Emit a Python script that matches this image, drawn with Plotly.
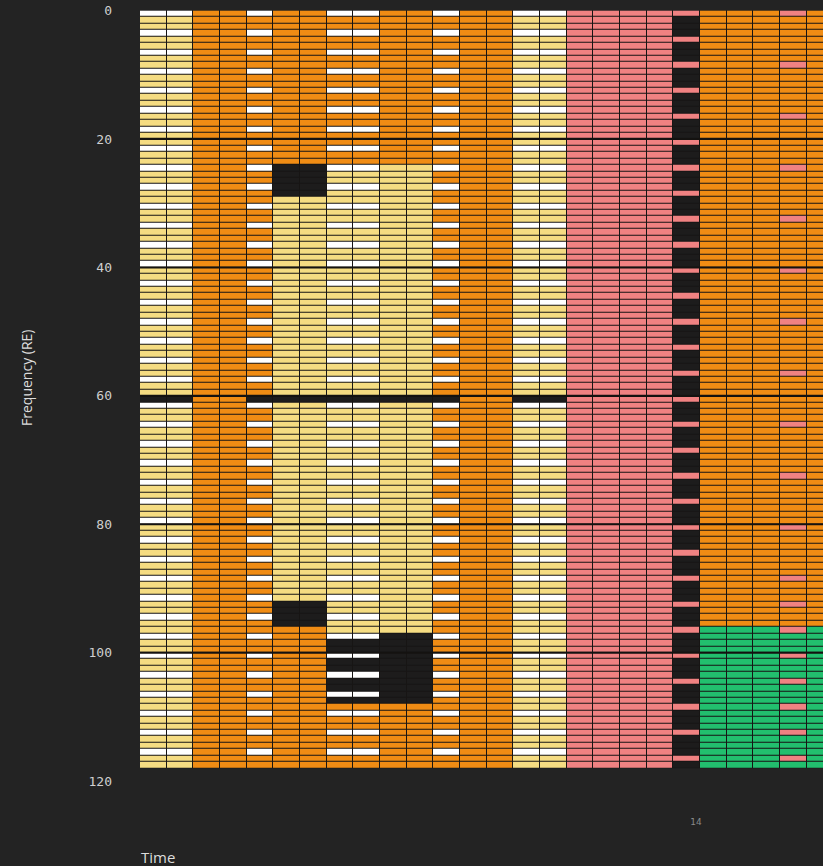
import plotly.graph_objects as go

# ---------------------------------------------------------------------------
# Resource grid: rows are resource elements (frequency), columns are symbols
# ---------------------------------------------------------------------------
N_ROWS = 118
N_COLS = 26
DC_ROW = 60

RE_TYPES = ["empty", "data_a", "data_b", "dmrs", "ref", "data_c"]
RE_COLORS = ["#1d1c1c", "#F5DC82", "#F08C14", "#FFFFFF", "#F08282", "#22BF6E"]

# (first_col, last_col, first_row, last_row, type)
ALLOCATIONS = [
    (0, 1, 0, 117, "data_a"),
    (2, 3, 0, 117, "data_b"),
    (4, 4, 0, 117, "data_b"),
    (5, 6, 0, 23, "data_b"),
    (5, 6, 24, 28, "empty"),
    (5, 6, 29, 91, "data_a"),
    (5, 6, 92, 95, "empty"),
    (5, 6, 96, 117, "data_b"),
    (7, 10, 0, 23, "data_b"),
    (7, 10, 24, 96, "data_a"),
    (7, 10, 97, 107, "empty"),
    (7, 10, 108, 117, "data_b"),
    (11, 11, 0, 117, "data_b"),
    (12, 13, 0, 117, "data_b"),
    (14, 15, 0, 117, "data_a"),
    (16, 19, 0, 117, "ref"),
    (20, 20, 0, 117, "empty"),
    (21, 25, 0, 95, "data_b"),
    (21, 25, 96, 117, "data_c"),
]

# DMRS symbols: every third subcarrier, the DC row is skipped
DMRS_COLS = [0, 1, 4, 7, 8, 11, 14, 15]
DMRS_ROWS = [r for r in range(N_ROWS)
             if r != DC_ROW and (r if r < DC_ROW else r - 1) % 3 == 0]

# columns where the DC subcarrier is left unused
DC_BLANK_COLS = [0, 1, 4, 5, 6, 7, 8, 9, 10, 11, 14, 15]

# reference-signal rows per column
REF_ROWS = {
    20: list(range(0, 118, 4)),
    24: list(range(0, 89, 8)) + list(range(92, 118, 4)),
}

Y_TICKS = [0, 20, 40, 60, 80, 100, 120]
X_TICK_TEXT = ["14"]
BLOCK_EDGES = [20, 40, 60, 80, 100]

# ---------------------------------------------------------------------------
code = {name: i for i, name in enumerate(RE_TYPES)}
grid = [[code["empty"]] * N_COLS for _ in range(N_ROWS)]

for c0, c1, r0, r1, kind in ALLOCATIONS:
    for r in range(r0, r1 + 1):
        for c in range(c0, c1 + 1):
            grid[r][c] = code[kind]

for c in DMRS_COLS:
    for r in DMRS_ROWS:
        if grid[r][c] != code["empty"] or 97 <= r <= 107:
            grid[r][c] = code["dmrs"]

for c in DC_BLANK_COLS:
    grid[DC_ROW][c] = code["empty"]

for c, rows in REF_ROWS.items():
    for r in rows:
        grid[r][c] = code["ref"]

n = len(RE_COLORS)
colorscale = []
for i, col in enumerate(RE_COLORS):
    colorscale.append([i / n, col])
    colorscale.append([(i + 1) / n, col])

BG = "#232323"
GAP = "#171514"

fig = go.Figure(
    go.Heatmap(
        z=grid,
        x0=0, dx=1,
        y0=0.5, dy=1,
        zmin=-0.5, zmax=n - 0.5,
        colorscale=colorscale,
        showscale=False,
        xgap=1, ygap=1,
        hoverinfo="skip",
    )
)

# dark backing that shows through the cell gaps
fig.add_shape(type="rect", xref="x", yref="y",
              x0=-0.5, x1=N_COLS - 0.5, y0=0, y1=N_ROWS,
              fillcolor=GAP, line=dict(width=0), layer="below")

for e in BLOCK_EDGES:
    fig.add_shape(type="line", xref="x", yref="y",
                  x0=-0.5, x1=N_COLS - 0.5, y0=e, y1=e,
                  line=dict(color="#141210", width=2), layer="above")

fig.update_layout(
    width=823, height=866,
    margin=dict(l=113, r=0, t=10, b=51),
    paper_bgcolor=BG, plot_bgcolor=BG,
    showlegend=False,
    xaxis=dict(range=[-1.5125, 25.11], showgrid=False, zeroline=False,
               showline=False, ticks="", tickvals=[20.35], ticktext=X_TICK_TEXT,
               tickfont=dict(family="DejaVu Sans", size=9, color="#8a8a8a"),
               fixedrange=True),
    yaxis=dict(range=[125.28, -0.109], showgrid=False, zeroline=False,
               showline=False, ticks="", tickvals=Y_TICKS,
               tickfont=dict(family="DejaVu Sans Mono", size=13, color="#cfcfcf"),
               fixedrange=True),
    annotations=[
        dict(text="Frequency (RE)", textangle=-90, xref="paper", yref="paper",
             x=-0.1211, y=0.5429, xanchor="center", yanchor="middle",
             showarrow=False,
             font=dict(family="Open Sans", size=14, color="#dcdcdc")),
        dict(text="Time", xref="x", yref="paper", x=-0.52, y=-0.0518,
             xanchor="left", yanchor="middle", showarrow=False,
             font=dict(family="Open Sans", size=15, color="#dcdcdc")),
    ],
)

fig.write_html("out.html")
